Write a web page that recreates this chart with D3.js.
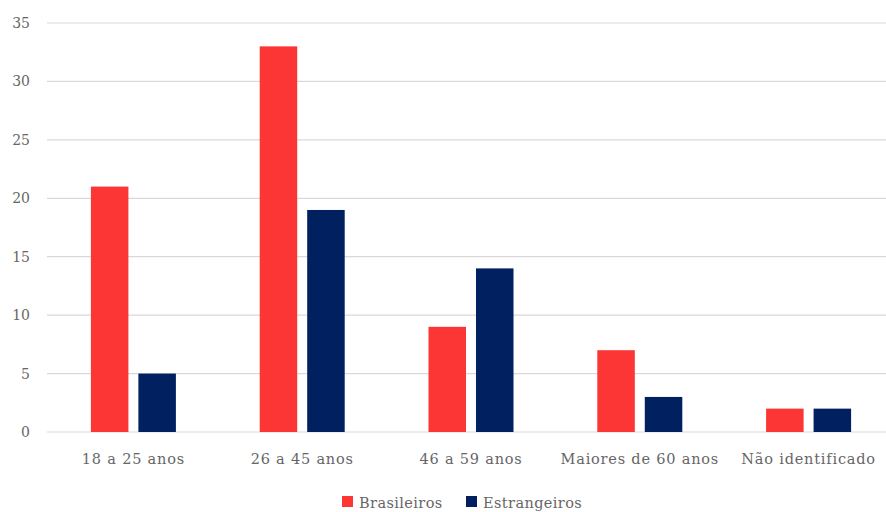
<!DOCTYPE html>
<html><head><meta charset="utf-8">
<script src="https://cdn.jsdelivr.net/npm/d3@7"></script>
<style>body{margin:0;background:#fff}svg{display:block}</style>
</head><body><svg id="c" width="886" height="512"></svg>
<script>
const categories = ["18 a 25 anos","26 a 45 anos","46 a 59 anos","Maiores de 60 anos","Não identificado"];
const brasileiros = [21,33,9,7,2];
const estrangeiros = [5,19,14,3,2];
const seriesNames = ["Brasileiros","Estrangeiros"];
const colors = ["#FC3535","#00205F"];
const yTicks = [0,5,10,15,20,25,30,35];
const FONT = "'DejaVu Serif', serif";

const svg = d3.select("#c");
const y = d3.scaleLinear().domain([0,35]).range([432,23]);
const x = d3.scaleBand().domain(categories).range([49,893]).paddingInner(0).paddingOuter(0);
const x1 = d3.scaleBand().domain(seriesNames).range([x.bandwidth()/2-42.5, x.bandwidth()/2+42.5]).paddingInner(0.21);

svg.append("g").selectAll("line").data(yTicks).join("line")
  .attr("x1",47).attr("x2",886).attr("y1",d=>y(d)).attr("y2",d=>y(d))
  .attr("stroke","#D9D9D9").attr("stroke-width",1.2);

const yAxis = d3.axisLeft(y).tickValues(yTicks).tickSize(0).tickPadding(0);
const ga = svg.append("g").attr("transform","translate(30,0)").call(yAxis);
ga.select(".domain").remove();
ga.selectAll("text").attr("font-size","14px").attr("fill","#666").style("font-family",FONT);

const data = categories.map((c,i)=>({c, vals:[brasileiros[i],estrangeiros[i]]}));
const g = svg.append("g").selectAll("g").data(data).join("g").attr("transform",d=>`translate(${x(d.c)},0)`);
g.selectAll("rect").data(d=>d.vals.map((v,j)=>({v,s:seriesNames[j],j}))).join("rect")
  .attr("x",d=>x1(d.s)).attr("width",x1.bandwidth())
  .attr("y",d=>y(d.v)).attr("height",d=>y(0)-y(d.v)).attr("fill",d=>colors[d.j]);

const xAxis = d3.axisBottom(x).tickSize(0).tickPadding(0);
const gx = svg.append("g").attr("transform","translate(0,454)").call(xAxis);
gx.select(".domain").remove();
gx.selectAll("text").attr("font-size","14.5px").attr("fill","#666").attr("dy","0.71em")
  .style("font-family",FONT).style("letter-spacing","0.8px");

const legend = svg.append("g");
const lx = [342,466];
seriesNames.forEach((s,i)=>{
  legend.append("rect").attr("x",lx[i]).attr("y",496).attr("width",11).attr("height",11).attr("fill",colors[i]);
  legend.append("text").attr("x",lx[i]+17).attr("y",508).attr("font-size","14.5px").attr("fill","#666")
    .style("font-family",FONT).style("letter-spacing","0.4px").text(s);
});
</script></body></html>
